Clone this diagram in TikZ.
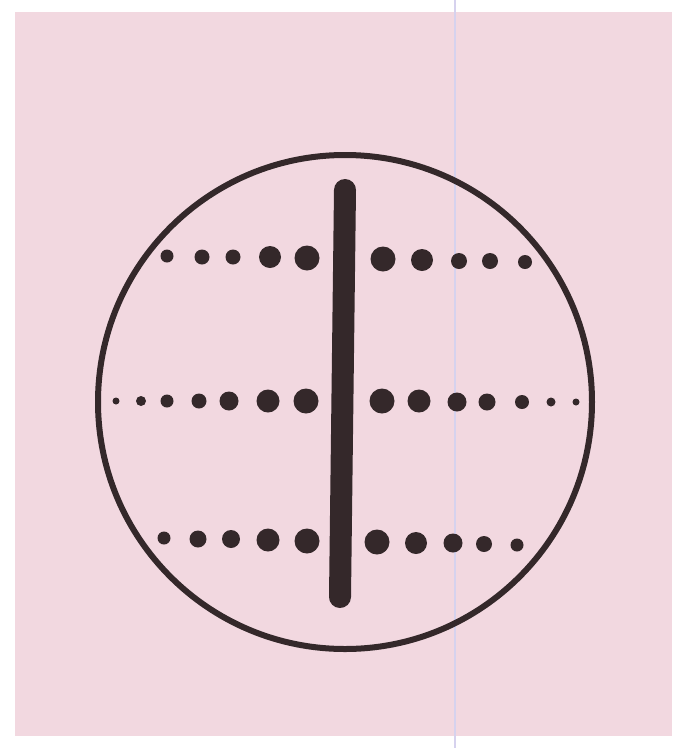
\documentclass[tikz,border=0pt]{standalone}
\usepackage{tikz}
\usepackage{xcolor}
\definecolor{paper}{RGB}{242,216,224}
\definecolor{ink}{RGB}{52,40,42}
\definecolor{scanline}{RGB}{214,210,238}

\begin{document}
\begin{tikzpicture}[x=1pt, y=-1pt, dot/.style={fill=ink}]
  \useasboundingbox (0,0) rectangle (683,748);
  \fill[white] (0,0) rectangle (683,748);
  \fill[paper] (15,12) rectangle (672,736);
  \draw[scanline, line width=2.5] (455,0) -- (455,748);

  % outer ring
  \draw[ink, line width=6] (345,402) circle (247);

  % upper row of dots
  \foreach \x/\y/\r in {167/256/6.5, 202/257/7.5, 233/257/7.5, 270/257/11, 307/258/12.5,
                         383/259/12.5, 422/260/11, 459/261/8, 490/261/8, 525/262/7}
    \fill[dot] (\x,\y) circle (\r);

  % middle row of dots
  \foreach \x/\y/\r in {116/401/3.5, 141/401/5, 167/401/6.5, 199/401/7.5, 229/401/9.5, 268/401/11.5, 306/401/12.5,
                         382/401/12.5, 419/401/11.5, 457/402/9.5, 487/402/8.5, 522/402/7, 551/402/4.5, 576/402/3.5}
    \fill[dot] (\x,\y) circle (\r);

  % lower row of dots
  \foreach \x/\y/\r in {164/538/6.5, 198/539/8.5, 231/539/9, 268/540/11.5, 307/541/12.5,
                         377/542/12.5, 416/543/11, 453/543/9.5, 484/544/8, 517/545/6.5}
    \fill[dot] (\x,\y) circle (\r);

  % vertical bar
  \draw[ink, line width=22, line cap=round] (345,190) -- (340,597);
\end{tikzpicture}
\end{document}
